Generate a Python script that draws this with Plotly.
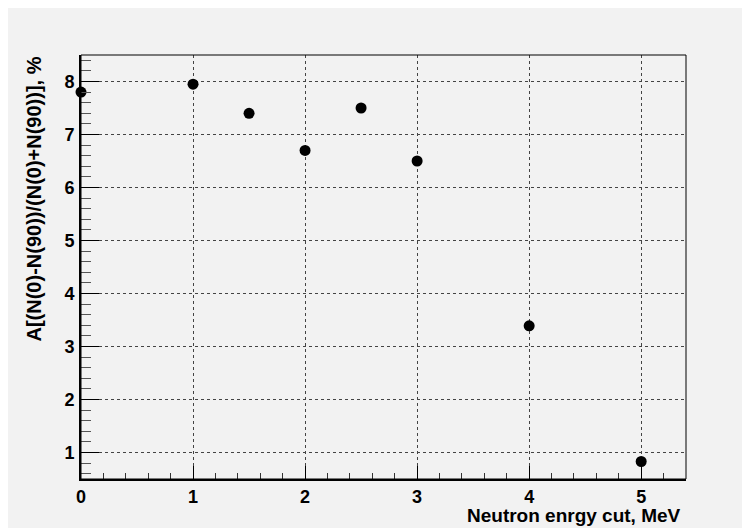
import plotly.graph_objects as go

energy_cut = [0, 1, 1.5, 2, 2.5, 3, 4, 5]
asymmetry = [7.8, 7.95, 7.4, 6.7, 7.5, 6.5, 3.39, 0.83]

x_title = "Neutron enrgy cut, MeV"
y_title = "A[(N(0)-N(90))/(N(0)+N(90))], %"

BG = "#f2f2f2"
FONT = "Liberation Sans, Arial, sans-serif"

# the page body adds an 8px offset
OFF = 8
W, H = 750 - OFF, 528 - OFF
L, T = 81 - OFF, 55 - OFF
R = W - (686 - OFF)
B = H - (479 - OFF)
pw = W - L - R
ph = H - T - B

fig = go.Figure()
fig.add_trace(go.Scatter(
    x=energy_cut, y=asymmetry, mode="markers",
    marker=dict(symbol="circle", size=11, color="black", line=dict(width=0)),
    cliponaxis=False, showlegend=False,
))

axis_common = dict(
    showline=True, linecolor="black", linewidth=2, mirror=False,
    ticks="inside", tickcolor="black",
    showgrid=True, gridcolor="#444444", griddash="dot", gridwidth=1,
    zeroline=False,
    tickfont=dict(family=FONT, size=18, color="black", weight="bold"),
)

fig.update_layout(
    width=W, height=H,
    margin=dict(l=L, r=R, t=T, b=B),
    paper_bgcolor=BG, plot_bgcolor=BG,
    xaxis=dict(range=[0, 5.4], dtick=1, tick0=0, ticklen=13,
               minor=dict(dtick=0.2, ticklen=6, tickcolor="#333333", ticks="inside", showgrid=False),
               **axis_common),
    yaxis=dict(range=[0.5, 8.5], dtick=1, tick0=0, ticklen=18,
               minor=dict(dtick=0.2, ticklen=10, tickcolor="#555555", ticks="inside", showgrid=False),
               ticklabelstandoff=1,
               **axis_common),
    shapes=[
        dict(type="rect", xref="paper", yref="paper", x0=0, x1=1, y0=0, y1=1,
             line=dict(color="black", width=1), fillcolor="rgba(0,0,0,0)", layer="above"),
    ],
    annotations=[
        dict(text=x_title, xref="paper", yref="paper", x=(683 - 81) / pw, y=-(515 - 479) / ph,
             xanchor="right", yanchor="middle", showarrow=False,
             font=dict(family=FONT, size=19, color="black", weight="bold")),
        dict(text=y_title, xref="paper", yref="paper", x=-(81 - 33) / pw, y=1.0,
             xanchor="center", yanchor="top", textangle=-90, showarrow=False,
             font=dict(family=FONT, size=20, color="black", weight="bold")),
    ],
)

fig.write_html("out.html")
